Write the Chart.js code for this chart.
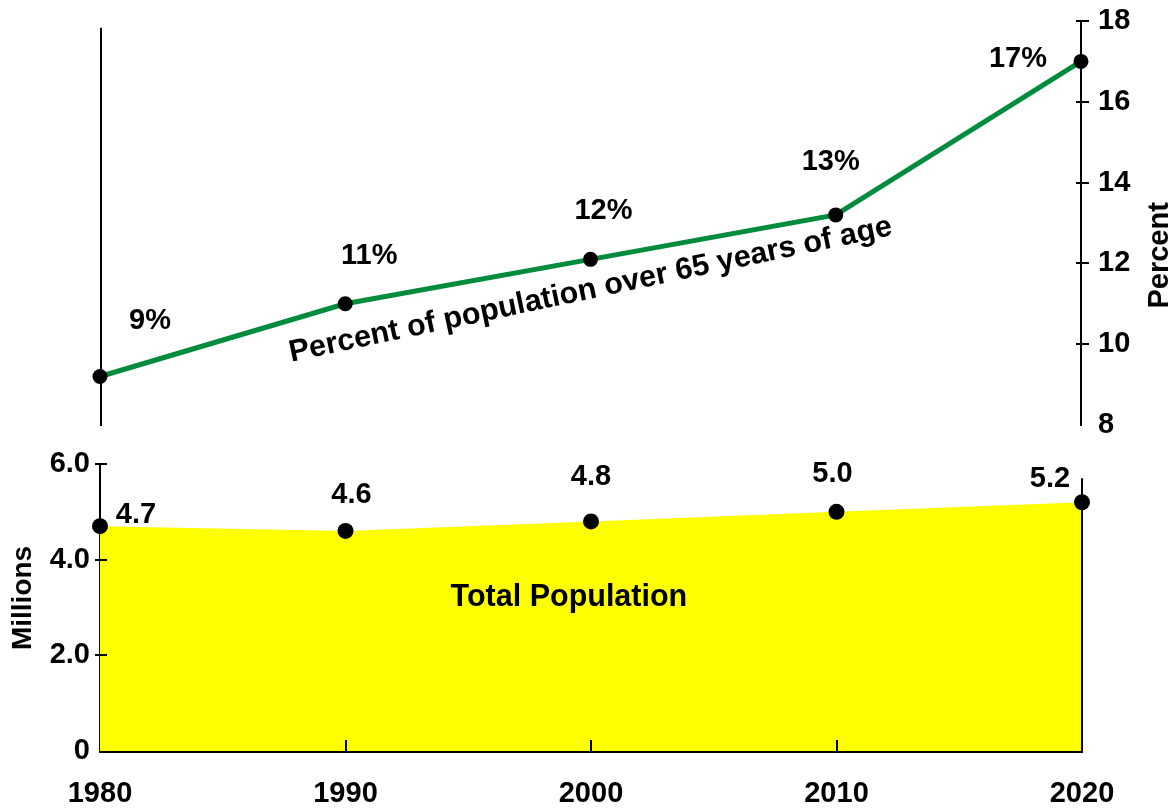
<!DOCTYPE html>
<html>
<head>
<meta charset="utf-8">
<title>Population over 65</title>
<script src="https://cdn.jsdelivr.net/npm/chart.js@4"></script>
<style>
  html, body { margin: 0; padding: 0; background: #fff; }
  #wrap { position: relative; width: 1174px; height: 810px; overflow: hidden; }
  canvas { position: absolute; left: 0; }
  #popChart { top: 440px; }
  #pctChart { top: 0; }
</style>
</head>
<body>
<div id="wrap">
  <canvas id="popChart" width="1174" height="370"></canvas>
  <canvas id="pctChart" width="1174" height="460"></canvas>
</div>
<script>
// data
const years = [1980, 1990, 2000, 2010, 2020];
const pctOver65 = [9.2, 11.0, 12.1, 13.2, 17.0];   // percent of population over 65
const population = [4.7, 4.6, 4.8, 5.0, 5.2];     // total population, millions
const pctTicks = [8, 10, 12, 14, 16, 18];
const popTicks = [0, 2, 4, 6];

const FONT = "'Liberation Sans', Arial, Helvetica, sans-serif";
const GREEN = '#008c3c';
const YELLOW = '#ffff00';

// where each value label sits relative to its dot (px)
const pctLabelShift = [[50, -56], [24, -48], [13, -48], [-5, -53], [-63, -2]];
const popLabelShift = [[36, -11], [6, -36], [0, -44], [-4, -38], [-32, -23]];

const tickFont = { family: FONT, size: 29, weight: 'bold' };

function points(vals) {
  return years.map((yr, i) => ({ x: yr, y: vals[i] }));
}

function line(ctx, x1, y1, x2, y2) {
  ctx.beginPath();
  ctx.moveTo(x1, y1);
  ctx.lineTo(x2, y2);
  ctx.stroke();
}

// keep the plot area where the layout padding puts it
function noOverhang(s) {
  s.paddingTop = 0;
  s.paddingBottom = 0;
  s.paddingLeft = 0;
  s.paddingRight = 0;
}

// extra drawing for the percent chart: left frame line, tick crosses, labels
const pctDecor = {
  id: 'pctDecor',
  afterDraw(chart) {
    const { ctx, chartArea: a, scales: { x, y } } = chart;
    ctx.save();
    ctx.strokeStyle = '#000';
    ctx.lineWidth = 2;
    line(ctx, a.left + 1, y.getPixelForValue(17.83), a.left + 1, a.bottom + 1);
    y.ticks.forEach(t => {
      if (t.value === y.min) return;
      const py = Math.round(y.getPixelForValue(t.value));
      line(ctx, a.right - 5, py, a.right + 8, py);
    });

    ctx.fillStyle = '#000';
    ctx.textAlign = 'center';
    ctx.textBaseline = 'middle';
    ctx.font = `bold 29px ${FONT}`;
    chart.getDatasetMeta(0).data.forEach((pt, i) => {
      const [dx, dy] = pctLabelShift[i];
      ctx.fillText(Math.round(pctOver65[i]) + '%', pt.x + dx, pt.y + dy);
    });

    ctx.save();
    ctx.translate(x.getPixelForValue(2000), y.getPixelForValue(11.34));
    ctx.rotate(-11.9 * Math.PI / 180);
    ctx.font = `bold 30.5px ${FONT}`;
    ctx.fillText('Percent of population over 65 years of age', 0, 0);
    ctx.restore();

    ctx.save();
    ctx.translate(a.right + 79, y.getPixelForValue(12.2));
    ctx.rotate(-Math.PI / 2);
    ctx.font = `bold 29px ${FONT}`;
    ctx.fillText('Percent', 0, 0);
    ctx.restore();
    ctx.restore();
  }
};

// extra drawing for the population chart
const popDecor = {
  id: 'popDecor',
  afterDraw(chart) {
    const { ctx, chartArea: a, scales: { x, y } } = chart;
    ctx.save();
    ctx.strokeStyle = '#000';
    ctx.lineWidth = 2;
    line(ctx, a.right, y.getPixelForValue(5.7), a.right, a.bottom);
    y.ticks.forEach(t => {
      if (t.value === y.min) return;
      const py = Math.round(y.getPixelForValue(t.value));
      line(ctx, a.left - 5, py, a.left + 7, py);
    });
    years.slice(1, -1).forEach(yr => {
      const px = Math.round(x.getPixelForValue(yr));
      line(ctx, px, a.bottom, px, a.bottom - 11);
    });

    ctx.fillStyle = '#000';
    ctx.textAlign = 'center';
    ctx.textBaseline = 'middle';
    ctx.font = `bold 29px ${FONT}`;
    chart.getDatasetMeta(0).data.forEach((pt, i) => {
      const [dx, dy] = popLabelShift[i];
      ctx.fillText(population[i].toFixed(1), pt.x + dx, pt.y + dy);
    });

    ctx.font = `bold 30.5px ${FONT}`;
    ctx.fillText('Total Population', x.getPixelForValue(1999.1), y.getPixelForValue(3.2));

    ctx.save();
    ctx.translate(23, y.getPixelForValue(3.2));
    ctx.rotate(-Math.PI / 2);
    ctx.font = `bold 28px ${FONT}`;
    ctx.fillText('Millions', 0, 0);
    ctx.restore();
    ctx.restore();
  }
};

new Chart(document.getElementById('popChart'), {
  type: 'line',
  data: {
    datasets: [{
      data: points(population),
      fill: 'origin',
      backgroundColor: YELLOW,
      borderColor: 'rgba(0,0,0,0)',
      borderWidth: 0,
      pointRadius: 8,
      pointBackgroundColor: '#000',
      pointBorderWidth: 0,
      tension: 0,
      clip: false
    }]
  },
  options: {
    responsive: false,
    animation: false,
    layout: { padding: { left: 0, top: 24, right: 92, bottom: 0 } },
    plugins: { legend: { display: false }, tooltip: { enabled: false } },
    scales: {
      x: {
        type: 'linear', min: 1980, max: 2020,
        afterBuildTicks: s => { s.ticks = years.map(v => ({ value: v })); },
        afterFit: s => { s.height = 59; noOverhang(s); },
        grid: { display: false, drawTicks: false },
        border: { display: true, color: '#000', width: 3 },
        ticks: { callback: v => String(v), padding: 26, color: '#000', font: tickFont, maxRotation: 0, autoSkip: false }
      },
      y: {
        min: 0, max: 6,
        afterBuildTicks: s => { s.ticks = popTicks.map(v => ({ value: v })); },
        afterFit: s => { s.width = 100; noOverhang(s); },
        grid: { display: false, drawTicks: false },
        border: { display: true, color: '#000', width: 2 },
        ticks: { callback: v => (v === 0 ? '0' : v.toFixed(1)), padding: 10, color: '#000', font: tickFont }
      }
    }
  },
  plugins: [popDecor]
});

new Chart(document.getElementById('pctChart'), {
  type: 'line',
  data: {
    datasets: [{
      data: points(pctOver65),
      borderColor: GREEN,
      borderWidth: 5,
      pointRadius: 7.5,
      pointBackgroundColor: '#000',
      pointBorderWidth: 0,
      tension: 0,
      clip: false
    }]
  },
  options: {
    responsive: false,
    animation: false,
    layout: { padding: { left: 100, top: 21, right: 0, bottom: 35 } },
    plugins: { legend: { display: false }, tooltip: { enabled: false } },
    scales: {
      x: { type: 'linear', min: 1980, max: 2020, display: false },
      y: {
        position: 'right', min: 8, max: 18,
        afterBuildTicks: s => { s.ticks = pctTicks.map(v => ({ value: v })); },
        afterFit: s => { s.width = 93; noOverhang(s); },
        grid: { display: false, drawTicks: false },
        border: { display: true, color: '#000', width: 2 },
        ticks: { padding: 17, color: '#000', font: tickFont }
      }
    }
  },
  plugins: [pctDecor]
});
</script>
</body>
</html>
